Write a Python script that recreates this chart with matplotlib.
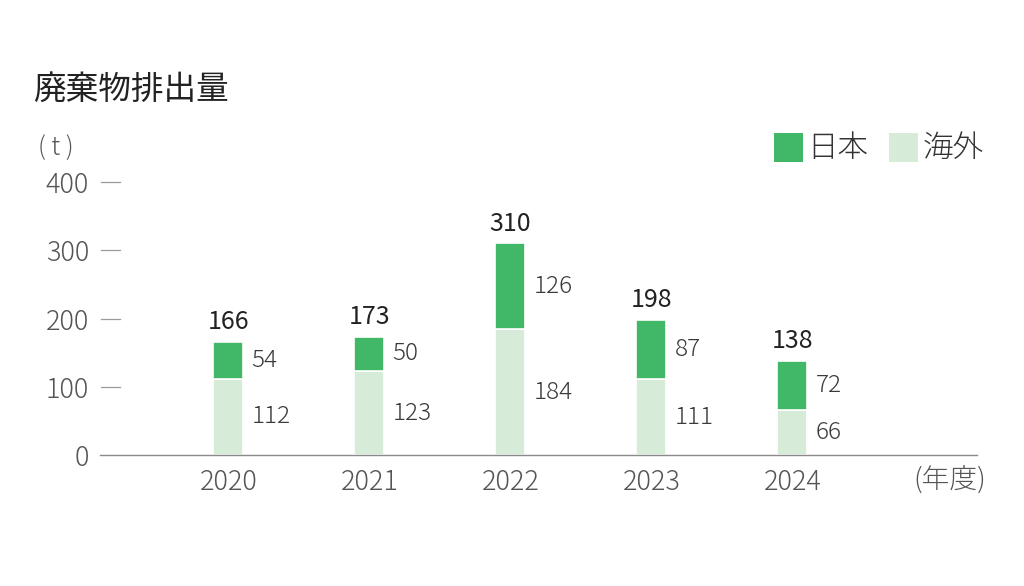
import matplotlib
matplotlib.use("Agg")
import matplotlib.pyplot as plt
from matplotlib.patches import Rectangle

years = ["2020", "2021", "2022", "2023", "2024"]
overseas = [112, 123, 184, 111, 66]
japan = [54, 50, 126, 87, 72]
totals = [166, 173, 310, 198, 138]
yticks = [0, 100, 200, 300, 400]

C_JP = "#41b868"
C_OS = "#d7ebd9"
TXT = "#3a3a3a"
FONT = ["Noto Sans CJK JP", "DejaVu Sans"]
plt.rcParams["font.family"] = FONT

fig = plt.figure(figsize=(10.24, 5.86), dpi=100)
W, H = 1024, 586
ax = fig.add_axes([100 / W, (H - 455) / H, 877 / W, 273 / H])

x = list(range(len(years)))
bw = 30 / 141
ax.bar(x, overseas, width=bw, color=C_OS, edgecolor="white", linewidth=1.2)
ax.bar(x, japan, bottom=overseas, width=bw, color=C_JP, edgecolor="white", linewidth=1.2)

ax.set_xlim(-0.91, 5.31)
ax.set_ylim(0, 400)

for s in ["top", "right", "left"]:
    ax.spines[s].set_visible(False)
ax.spines["bottom"].set_color("#8a8a8a")
ax.spines["bottom"].set_linewidth(1.0)

ax.set_yticks(yticks)
ax.set_yticklabels([str(v) for v in yticks], fontsize=19.5, color="#555555", fontweight="light")
ax.tick_params(axis="y", length=0, pad=8)
for v in yticks[1:]:
    ax.plot([-0.90, -0.77], [v, v], color="#9a9a9a", lw=0.9, clip_on=False)

ax.set_xticks(x)
ax.set_xticklabels(years, fontsize=19.5, color="#555555", fontweight="light")
ax.tick_params(axis="x", length=0, pad=9)

for i in x:
    ax.text(i + bw / 2 + 0.06, overseas[i] / 2, str(overseas[i]), ha="left", va="center",
            fontsize=17.5, color=TXT, fontweight="light")
    ax.text(i + bw / 2 + 0.06, overseas[i] + japan[i] / 2, str(japan[i]), ha="left", va="center",
            fontsize=17.5, color=TXT, fontweight="light")
    ax.text(i, totals[i] + 10, str(totals[i]), ha="center", va="bottom",
            fontsize=18, color="#222222", fontweight="normal")

fig.text(33 / W, 1 - 90 / H, "廃棄物排出量", fontsize=23.5, color="#222222", va="center", ha="left")
fig.text(38 / W, 1 - 148 / H, "( t )", fontsize=18, color="#555555", va="center", ha="left", fontweight="light")
fig.text(986 / W, 1 - 480 / H, "(年度)", fontsize=20, color="#555555", va="center", ha="right", fontweight="light")

# legend
fig.patches.append(Rectangle((774 / W, 1 - 162 / H), 29 / W, 29 / H, transform=fig.transFigure,
                             facecolor=C_JP, edgecolor="none"))
fig.text(807 / W, 1 - 148 / H, "日本", fontsize=22, color="#333333", va="center", ha="left", fontweight="light")
fig.patches.append(Rectangle((889 / W, 1 - 162 / H), 29 / W, 29 / H, transform=fig.transFigure,
                             facecolor=C_OS, edgecolor="none"))
fig.text(923 / W, 1 - 148 / H, "海外", fontsize=22, color="#333333", va="center", ha="left", fontweight="light")

fig.savefig("out.png", dpi=100, facecolor="white")
